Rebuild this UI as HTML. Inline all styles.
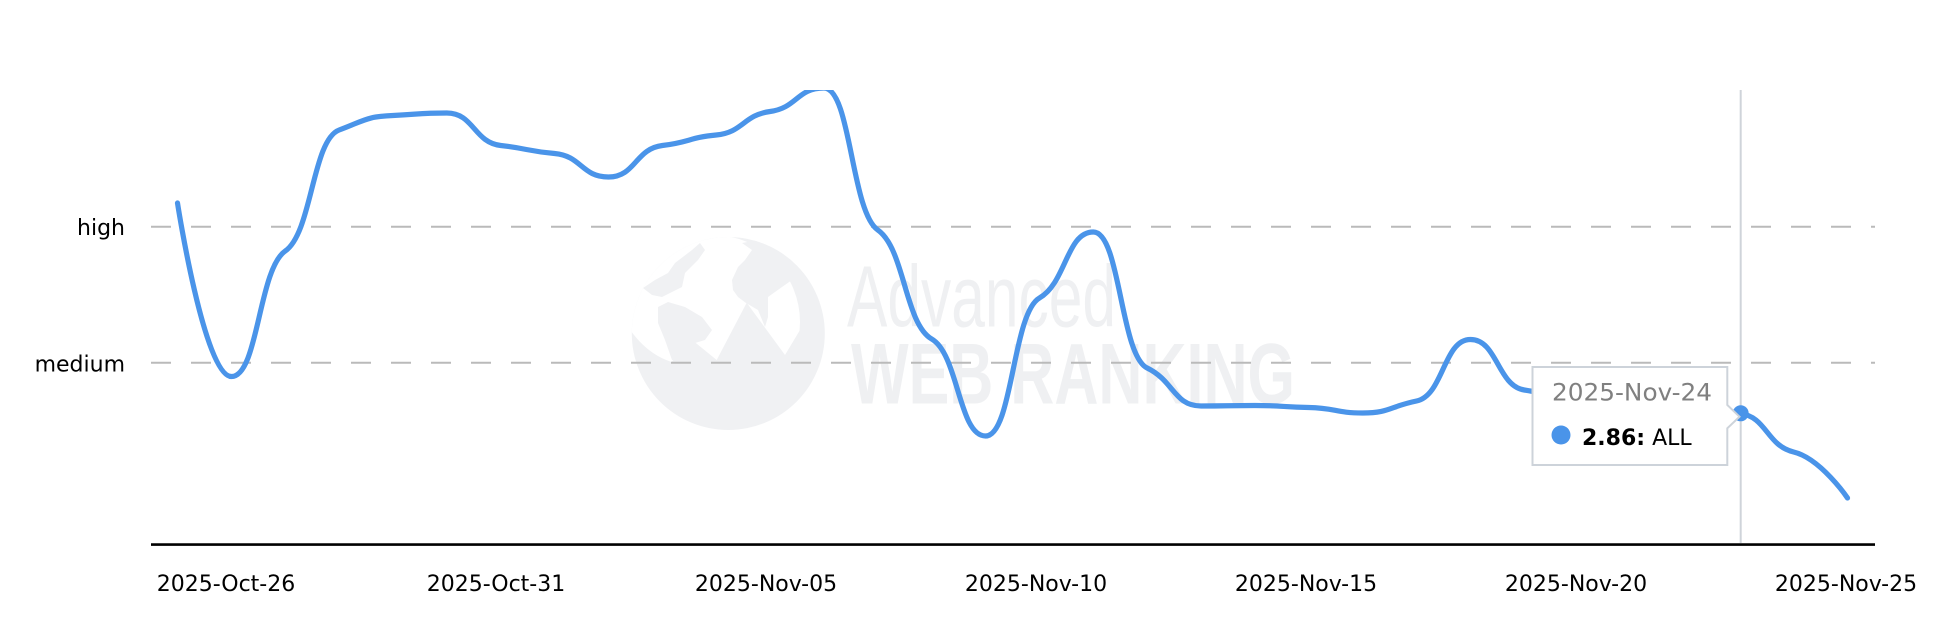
<!DOCTYPE html>
<html>
<head>
<meta charset="utf-8">
<style>
  html,body{margin:0;padding:0;background:#fff;}
  svg{display:block;}
  .lbl{font-family:"DejaVu Sans","Liberation Sans",sans-serif;font-size:22px;fill:#000;}
</style>
</head>
<body>
<svg id="chart" width="1946" height="624" viewBox="0 0 1946 624" xmlns="http://www.w3.org/2000/svg">
  <defs>
    <clipPath id="plotClip"><rect x="140" y="90" width="1740" height="456"/></clipPath>
    <clipPath id="globeClip"><circle cx="728.3" cy="333.5" r="96.5"/></clipPath>
    <clipPath id="skyClip">
      <path d="M620,225 L620,313 Q640,352 671.7,362 L690,338.3 L716.7,360 L746.7,302.7 L785,355 L800,330 L840,225 Z"/>
    </clipPath>
  </defs>
  <rect x="0" y="0" width="1946" height="624" fill="#ffffff"/>

  <!-- watermark -->
  <g>
    <circle cx="728.3" cy="333.5" r="96.5" fill="#f0f1f3"/>
    <g clip-path="url(#globeClip)">
      <g clip-path="url(#skyClip)">
        <circle cx="713" cy="322" r="87" fill="#ffffff"/>
      </g>
      <g fill="#f0f1f3">
        <polygon points="643,288 655,280 668,273 675,263 692,250 700,243 705,250 698,260 685,273 682,287 672,292 662,297 652,295"/>
        <polygon points="658,307 668,302 685,307 702,317 712,330 705,340 695,343 683,360 672,360 665,340 658,323"/>
        <polygon points="732,280 738,267 745,260 752,250 742,243 758,240 778,250 792,260 797,270 792,280 782,287 768,297 768,317 765,327 758,310 746,303 738,297 733,290"/>
      </g>
    </g>
    <text x="847" y="326.5" font-family="Liberation Sans, sans-serif" font-size="87" fill="#eff0f2" textLength="269" lengthAdjust="spacingAndGlyphs">Advanced</text>
    <text x="851" y="403.5" font-family="Liberation Sans, sans-serif" font-weight="bold" font-size="86" fill="#eff0f2" textLength="444" lengthAdjust="spacingAndGlyphs">WEB RANKING</text>
  </g>

  <!-- grid lines -->
  <line x1="151" y1="226.7" x2="1875" y2="226.7" stroke="#bababa" stroke-width="2" stroke-dasharray="20 20"/>
  <line x1="151" y1="362.7" x2="1875" y2="362.7" stroke="#bababa" stroke-width="2" stroke-dasharray="20 20"/>

  <!-- crosshair -->
  <line x1="1740.7" y1="90" x2="1740.7" y2="543" stroke="#cfd4da" stroke-width="2"/>

  <!-- x axis line -->
  <line x1="151" y1="544.6" x2="1875" y2="544.6" stroke="#000" stroke-width="2.6"/>

  <!-- y labels -->
  <text class="lbl" x="125" y="235" text-anchor="end">high</text>
  <text class="lbl" x="125" y="371.3" text-anchor="end">medium</text>

  <!-- x labels -->
  <text class="lbl" x="226" y="591" text-anchor="middle">2025-Oct-26</text>
  <text class="lbl" x="496" y="591" text-anchor="middle">2025-Oct-31</text>
  <text class="lbl" x="766" y="591" text-anchor="middle">2025-Nov-05</text>
  <text class="lbl" x="1036" y="591" text-anchor="middle">2025-Nov-10</text>
  <text class="lbl" x="1306" y="591" text-anchor="middle">2025-Nov-15</text>
  <text class="lbl" x="1576" y="591" text-anchor="middle">2025-Nov-20</text>
  <text class="lbl" x="1846" y="591" text-anchor="middle">2025-Nov-25</text>

  <!-- series -->
  <g clip-path="url(#plotClip)">
    <path id="series" d="" fill="none" stroke="#4a94e9" stroke-width="5.2" stroke-linecap="round" stroke-linejoin="round"/>
  </g>
  <circle cx="1740.7" cy="413.3" r="8" fill="#4a94e9"/>

  <!-- tooltip -->
  <path d="M1532.5,367 H1727.3 V405 L1739.5,416.7 L1727.3,428.3 V465 H1532.5 Z" fill="#ffffff" stroke="#cdd3da" stroke-width="2"/>
  <text x="1552" y="400.7" font-family="DejaVu Sans, Liberation Sans, sans-serif" font-size="24" fill="#808080" textLength="160" lengthAdjust="spacingAndGlyphs">2025-Nov-24</text>
  <circle cx="1561" cy="435" r="9.5" fill="#4a94e9"/>
  <text x="1582" y="445" font-family="DejaVu Sans, Liberation Sans, sans-serif" font-size="22" fill="#000"><tspan font-weight="bold">2.86:</tspan> ALL</text>
</svg>
<script>
(function(){
  var ys=[203,376.5,251,130,115.5,113,145.5,153.5,177,145.5,135,111.5,88,230,339,436,298,232,368,406,405.5,407.5,413,401,339.5,390,397,402,407,413.3,452,498];
  var n=ys.length, x0=177.5, dx=(1847.5-177.5)/(n-1);
  var a=dx/2, k=0.3;
  function X(i){return x0+dx*i;}
  function tan(i){
    if(i===0||i===n-1) return null;
    var l=ys[i-1], c=ys[i], r=ys[i+1];
    if((c-l)*(r-c)<=0) return 0;
    return k*(r-l)/(2*dx);
  }
  var d='M'+X(0).toFixed(2)+' '+ys[0].toFixed(2);
  for(var i=1;i<n;i++){
    var p0x=X(i-1), p0y=ys[i-1], p3x=X(i), p3y=ys[i];
    var t0=tan(i-1), t1=tan(i);
    var p1x,p1y,p2x,p2y;
    if(t0===null){p1x=p0x;p1y=p0y;} else {p1x=p0x+a;p1y=p0y+a*t0;}
    if(t1===null){p2x=p3x;p2y=p3y;} else {p2x=p3x-a;p2y=p3y-a*t1;}
    d+=' C'+p1x.toFixed(2)+' '+p1y.toFixed(2)+' '+p2x.toFixed(2)+' '+p2y.toFixed(2)+' '+p3x.toFixed(2)+' '+p3y.toFixed(2);
  }
  document.getElementById('series').setAttribute('d',d);
})();
</script>
</body>
</html>
